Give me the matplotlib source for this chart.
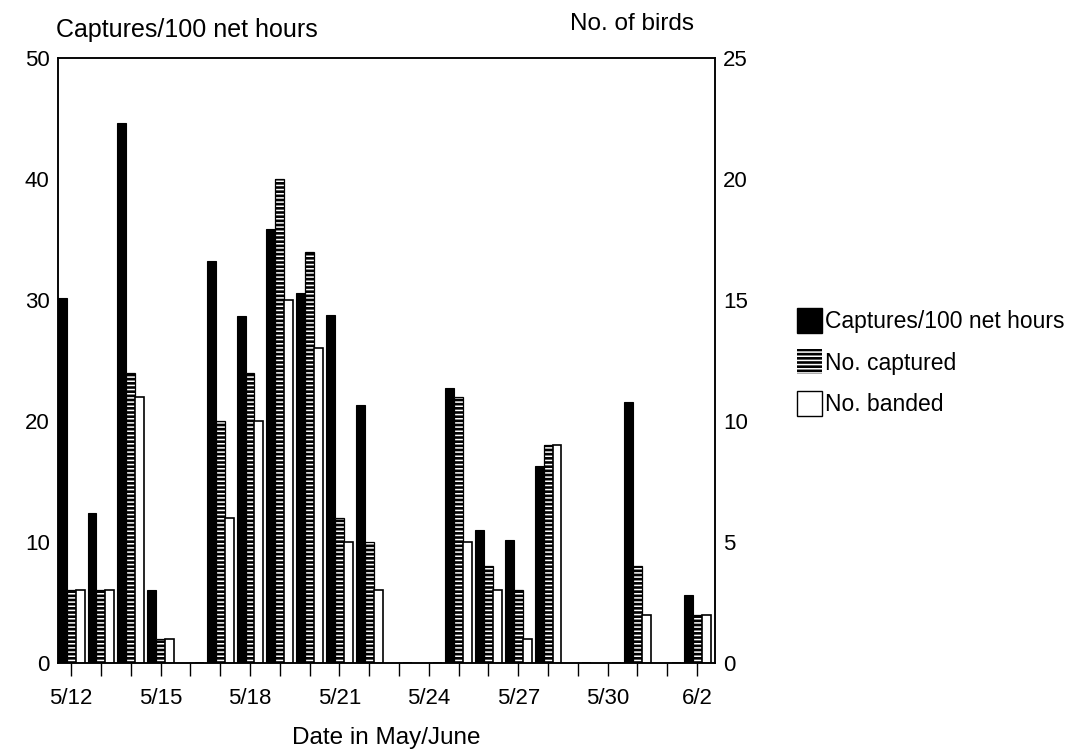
import matplotlib
matplotlib.use("Agg")
import matplotlib.pyplot as plt
import matplotlib.patches as mpatches
import numpy as np

plt.rcParams["font.family"] = ["Liberation Sans", "DejaVu Sans"]
plt.rcParams["hatch.linewidth"] = 1.1

# Daily values, 5/12 .. 6/2
dates = ["5/12", "5/13", "5/14", "5/15", "5/16", "5/17", "5/18", "5/19",
         "5/20", "5/21", "5/22", "5/23", "5/24", "5/25", "5/26", "5/27",
         "5/28", "5/29", "5/30", "5/31", "6/1", "6/2"]
captures_per_100h = [30.2, 12.4, 44.6, 6.0, 0, 33.2, 28.7, 35.9,
                     30.6, 28.8, 21.3, 0, 0, 22.7, 11.0, 10.2,
                     16.3, 0, 0, 21.6, 0, 5.6]
n_captured = [3, 3, 12, 1, 0, 10, 12, 20, 17, 6, 5, 0, 0, 11, 4, 3,
              9, 0, 0, 4, 0, 2]
n_banded = [3, 3, 11, 1, 0, 6, 10, 15, 13, 5, 3, 0, 0, 5, 3, 1,
            9, 0, 0, 2, 0, 2]
label_every = 3

W, H = 1074, 754
fig = plt.figure(figsize=(W / 100, H / 100), dpi=100)
ax = fig.add_axes([58 / W, 1 - 663 / H, (715 - 58) / W, (663 - 58) / H])
ax2 = ax.twinx()

x = np.arange(len(dates))
bw = 0.3

ax.bar(x - bw, captures_per_100h, width=bw, color="black",
       edgecolor="black", linewidth=0.8)
# hatched: black fill with white ladder pattern
ax2.bar(x, n_captured, width=bw, color="black", edgecolor="white",
        hatch="----", linewidth=0)
ax2.bar(x, n_captured, width=bw, fill=False, edgecolor="black",
        linewidth=0.9)
ax2.bar(x + bw, n_banded, width=bw, color="white", edgecolor="black",
        linewidth=1.2)

ax.set_xlim(-0.44, len(dates) - 1 + 0.6)
ax.set_ylim(0, 50)
ax2.set_ylim(0, 25)
ax.set_yticks(np.arange(0, 51, 10))
ax2.set_yticks(np.arange(0, 26, 5))
ax.set_xticks(x)
ax.set_xticklabels([d if i % label_every == 0 else ""
                    for i, d in enumerate(dates)])

for a in (ax, ax2):
    for s in a.spines.values():
        s.set_linewidth(1.1)
    a.tick_params(axis="y", length=0, labelsize=16, width=0)
ax.tick_params(axis="y", pad=6)
ax2.tick_params(axis="y", pad=6)
ax.tick_params(axis="x", direction="out", length=9, width=1.0,
               labelsize=16, pad=9)

ax.set_xlabel("Date in May/June", fontsize=17.5, labelpad=13)
fig.text(56 / W, 1 - 30 / H, "Captures/100 net hours", fontsize=18,
         ha="left", va="center")
fig.text(632 / W, 1 - 24 / H, "No. of birds", fontsize=17.5,
         ha="center", va="center")

handles = [
    mpatches.Patch(facecolor="black", edgecolor="black"),
    mpatches.Patch(facecolor="black", edgecolor="white", hatch="----",
                   linewidth=0),
    mpatches.Patch(facecolor="white", edgecolor="black", linewidth=1.0),
]
labels = ["Captures/100 net hours", "No. captured", "No. banded"]
fig.legend(handles, labels, loc="upper left",
           bbox_to_anchor=(788 / W, 1 - 299 / H), frameon=False,
           fontsize=16.5, handlelength=1.1, handleheight=1.3,
           handletextpad=0.1, labelspacing=0.7, borderaxespad=0)

fig.savefig("out.png", dpi=100)
